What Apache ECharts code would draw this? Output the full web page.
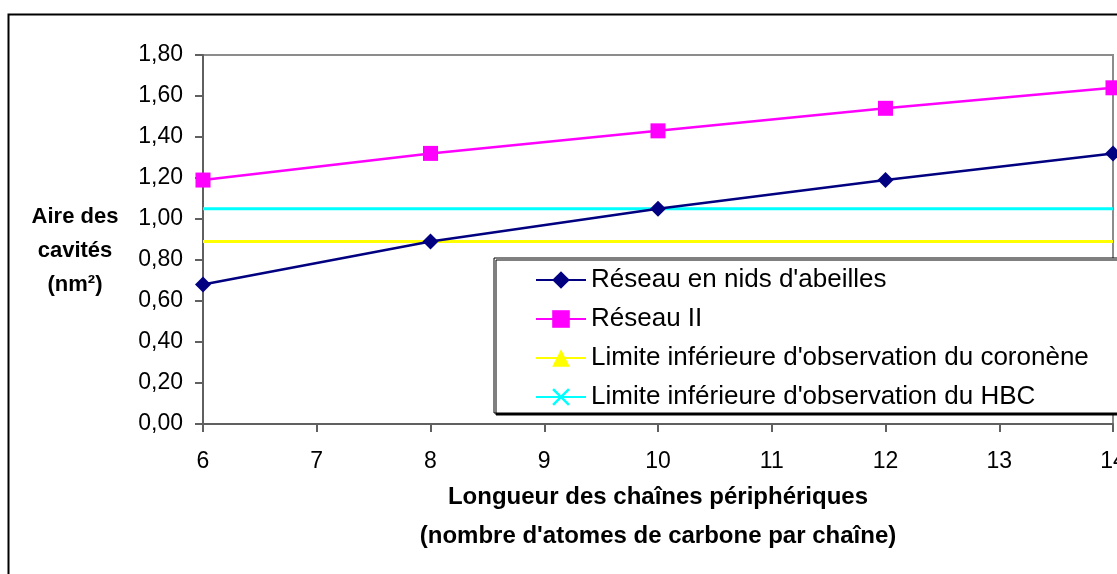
<!DOCTYPE html>
<html>
<head>
<meta charset="utf-8">
<script src="https://cdn.jsdelivr.net/npm/echarts@6/dist/echarts.min.js"></script>
<style>
html,body{margin:0;padding:0;background:#fff;}
#chart{width:1117px;height:574px;}
</style>
</head>
<body>
<div id="chart"></div>
<script>
// ---- data ----
const xValues = [6, 8, 10, 12, 14];
const seriesNames = [
  "Réseau en nids d'abeilles",
  "Réseau II",
  "Limite inférieure d'observation du coronène",
  "Limite inférieure d'observation du HBC"
];
const nidsValues = [0.68, 0.89, 1.05, 1.19, 1.32];
const reseau2Values = [1.19, 1.32, 1.43, 1.54, 1.64];
const coroneneLimit = 0.89;
const hbcLimit = 1.05;
const limitXRange = [6, 14];
const yTickLabels = ['0,00','0,20','0,40','0,60','0,80','1,00','1,20','1,40','1,60','1,80'];
const xTitle = "Longueur des chaînes périphériques\n(nombre d'atomes de carbone par chaîne)";
const yTitleLines = ["Aire des", "cavités", "(nm²)"];

const FONT = 'Liberation Sans, Arial, sans-serif';
const crossPath = 'path://M0,1 L1,0 L5,4 L9,0 L10,1 L6,5 L10,9 L9,10 L5,6 L1,10 L0,9 L4,5 Z';

const pairs = (xs, ys) => xs.map((x, i) => [x, ys[i]]);
const flat = (v) => limitXRange.map(x => [x, v]);

const chart = echarts.init(document.getElementById('chart'), null, {renderer: 'canvas'});
chart.setOption({
  animation: false,
  backgroundColor: '#ffffff',
  graphic: [{
    type: 'rect',
    shape: {x: 8.5, y: 14.5, width: 1300, height: 800},
    style: {fill: 'none', stroke: '#000', lineWidth: 2},
    z: -10, silent: true
  }],
  grid: {
    left: 203, right: 4, top: 55, bottom: 150,
    outerBoundsMode: 'none', containLabel: false,
    show: true, borderColor: '#8c8c8c', borderWidth: 2, backgroundColor: 'transparent'
  },
  xAxis: {
    type: 'value', min: 6, max: 14, interval: 1,
    name: xTitle, nameLocation: 'middle', nameGap: 52,
    nameTextStyle: {fontFamily: FONT, fontSize: 24, fontWeight: 'bold', color: '#000', lineHeight: 39},
    axisLine: {show: true, lineStyle: {color: '#606060', width: 2}},
    axisTick: {show: true, length: 8, inside: false, lineStyle: {color: '#606060', width: 2}},
    axisLabel: {fontFamily: FONT, fontSize: 23, color: '#000', margin: 26, hideOverlap: false},
    splitLine: {show: false}
  },
  yAxis: {
    type: 'value', min: 0, max: 1.8, interval: 0.2,
    name: '{s| }\n' + yTitleLines.map(l => '{t|' + l + '}').join('\n'),
    nameLocation: 'middle', nameRotate: 0, nameGap: 128,
    nameTextStyle: {
      align: 'center',
      rich: {
        t: {fontFamily: FONT, fontSize: 22, fontWeight: 'bold', color: '#000', lineHeight: 34, align: 'center'},
        s: {fontSize: 10, lineHeight: 22}
      }
    },
    axisLine: {show: true, lineStyle: {color: '#606060', width: 2}},
    axisTick: {show: true, length: 8, lineStyle: {color: '#606060', width: 2}},
    axisLabel: {fontFamily: FONT, fontSize: 23, color: '#000', margin: 20,
      formatter: (v) => yTickLabels[Math.round(v / 0.2)]},
    splitLine: {show: false}
  },
  legend: {
    orient: 'vertical', left: 494, top: 258,
    padding: [7, 60, 1, 41], itemGap: 9,
    itemWidth: 50, itemHeight: 22,
    backgroundColor: '#fff', borderColor: '#000', borderWidth: 1,
    shadowColor: '#000', shadowBlur: 0, shadowOffsetX: 2, shadowOffsetY: 2,
    textStyle: {fontFamily: FONT, fontSize: 26, color: '#000', lineHeight: 30},
    data: seriesNames
  },
  series: [
    {
      name: seriesNames[0], type: 'line', data: pairs(xValues, nidsValues),
      symbol: 'diamond', symbolSize: 16, clip: false,
      lineStyle: {color: '#000080', width: 2.5}, itemStyle: {color: '#000080'}, z: 4
    },
    {
      name: seriesNames[1], type: 'line', data: pairs(xValues, reseau2Values),
      symbol: 'rect', symbolSize: 15, clip: false,
      lineStyle: {color: '#ff00ff', width: 2.5}, itemStyle: {color: '#ff00ff'}, z: 4
    },
    {
      name: seriesNames[2], type: 'line', data: flat(coroneneLimit),
      symbol: 'triangle', symbolSize: 14, showSymbol: false,
      lineStyle: {color: '#ffff00', width: 3}, itemStyle: {color: '#ffff00'}, z: 3
    },
    {
      name: seriesNames[3], type: 'line', data: flat(hbcLimit),
      symbol: crossPath, symbolSize: 14, showSymbol: false,
      lineStyle: {color: '#00ffff', width: 3}, itemStyle: {color: '#00ffff'}, z: 3
    }
  ]
});
</script>
</body>
</html>
